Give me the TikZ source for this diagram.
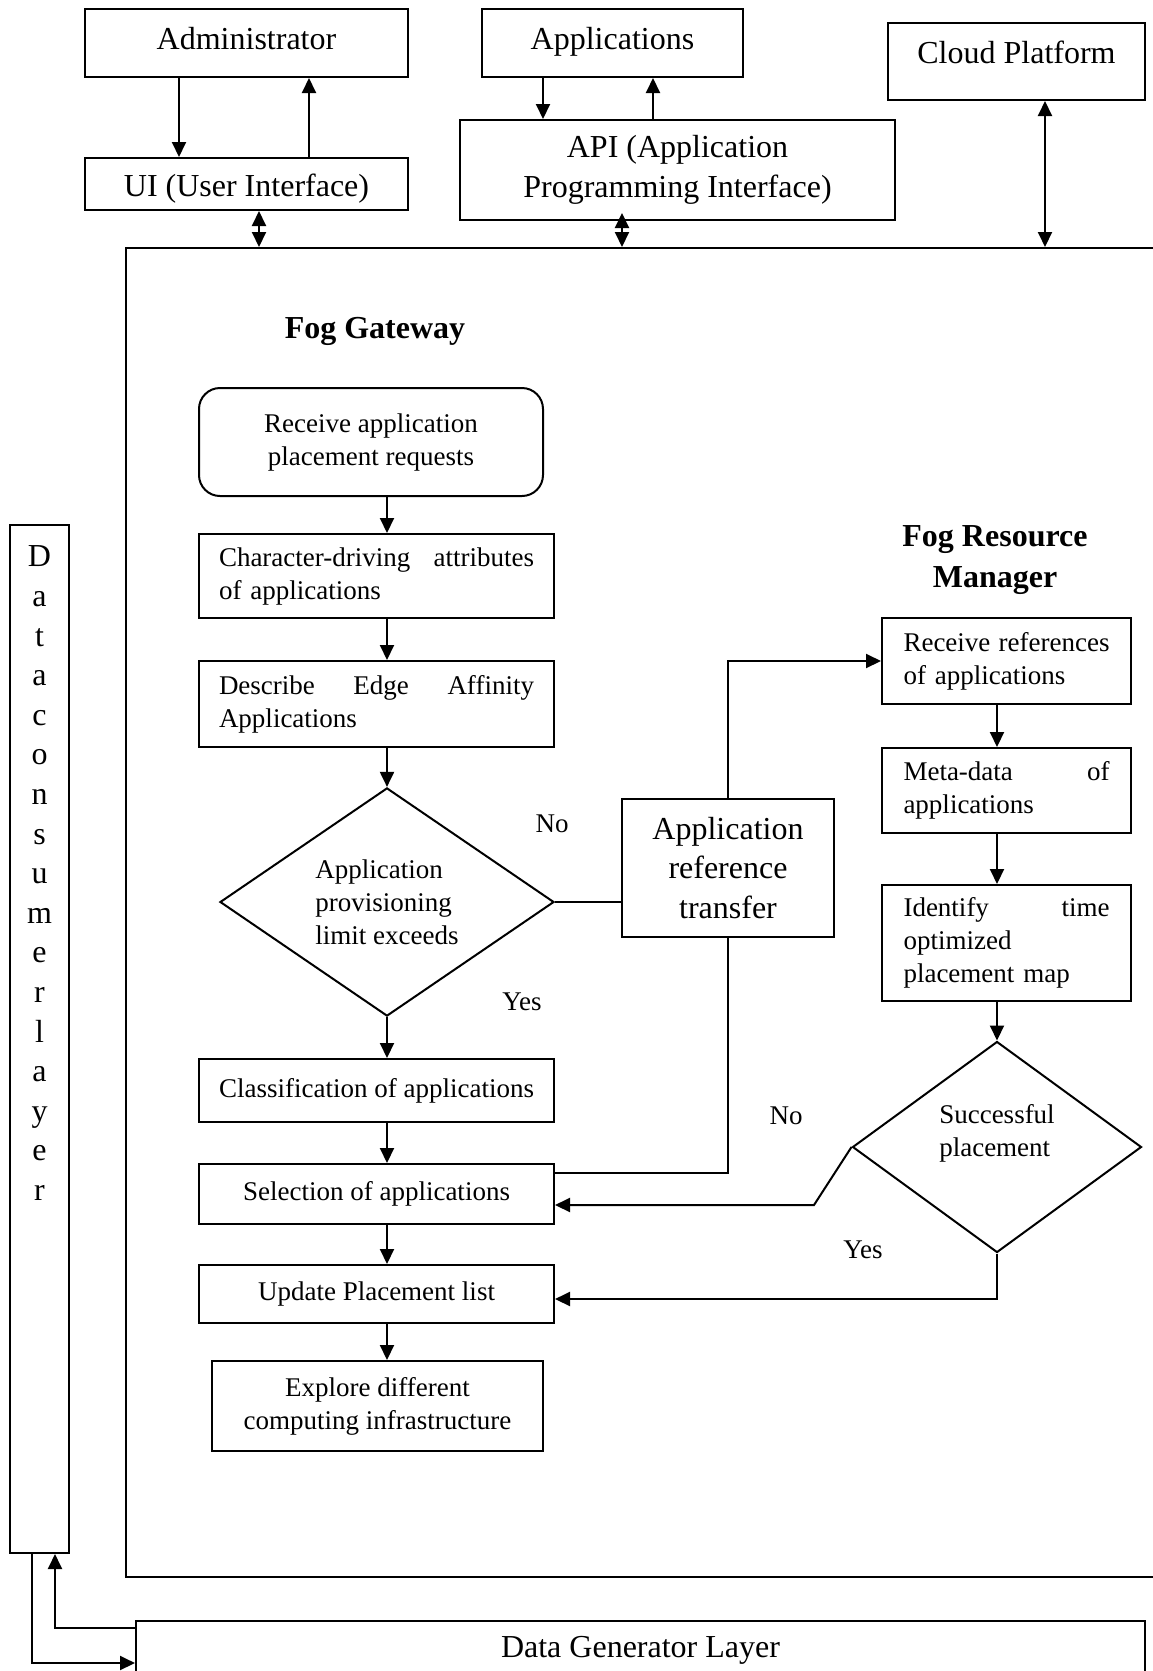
\documentclass[tikz,border=0pt]{standalone}
\usepackage{fontspec}
\setmainfont{Liberation Serif}
\usetikzlibrary{arrows.meta,shapes.geometric}

\begin{document}
\begin{tikzpicture}[x=1pt, y=-1pt, line width=2pt, >={Triangle[length=15pt,width=14pt]},
  box/.style={draw, rectangle, inner sep=0pt, align=center, font=\fontsize{32}{39.5}\selectfont},
  flow/.style={draw, rectangle, inner sep=0pt, align=center, minimum width=355pt, font=\fontsize{27}{33}\selectfont},
  just/.style={flow, text width=315pt, align=left},
  rjust/.style={draw, rectangle, inner sep=0pt, text width=206pt, align=left, minimum width=249pt, font=\fontsize{27}{33}\selectfont},
  decide/.style={draw, diamond, inner sep=0pt, align=left, font=\fontsize{27}{33}\selectfont},
  lbl/.style={font=\fontsize{27}{33}\selectfont},
  head/.style={align=center, font=\fontsize{32}{41}\selectfont\bfseries}]

\useasboundingbox (0,0) rectangle (1152,1671);

% top row
\node[box, minimum width=323pt, minimum height=68pt, text depth=9pt] (admin) at (246.5,43) {Administrator};
\node[box, minimum width=261pt, minimum height=68pt, text depth=9pt] (apps) at (612.5,43) {Applications};
\node[box, minimum width=257pt, minimum height=77pt, text depth=19.5pt] (cloud) at (1016.5,61.5) {Cloud Platform};
\node[box, minimum width=323pt, minimum height=52pt, text height=33.5pt, text depth=8pt] (ui) at (246.5,184) {UI (User Interface)};
\node[box, minimum width=435pt, minimum height=100pt] (api) at (677.5,170) {API (Application\\Programming Interface)};

\draw[->] ([xshift=-67.5pt]admin.south) -- ([xshift=-67.5pt]ui.north);
\draw[<-] ([xshift=62.5pt]admin.south) -- ([xshift=62.5pt]ui.north);
\draw[->] ([xshift=-69.5pt]apps.south) -- ([xshift=-69.5pt]apps.south |- api.north);
\draw[<-] ([xshift=40.5pt]apps.south) -- ([xshift=40.5pt]apps.south |- api.north);

% fog gateway frame
\node[draw, minimum width=1049pt, minimum height=1329pt] (fog) at (650.5,912.5) {};
\draw[<->] ([xshift=12.5pt]ui.south) -- ([xshift=12.5pt]ui.south |- fog.north);
\draw[<->] ([xshift=-55.5pt,yshift=8pt]api.south) -- ([xshift=-55.5pt]api.south |- fog.north);
\draw[<->] ([xshift=28.5pt]cloud.south) -- ([xshift=28.5pt]cloud.south |- fog.north);

\node[head] (gwtitle) at (375,331) {Fog Gateway};

\node[flow, rounded corners=21pt, minimum width=344pt, minimum height=108pt] (recv) at (371,442) {Receive application\\placement requests};
\node[just, minimum height=84pt] (chars) at (376.5,576) {Character-driving\hfill attributes\\of applications};
\node[just, minimum height=86pt] (edge) at (376.5,704) {Describe\hfill Edge\hfill Affinity\\Applications};
\node[decide, minimum width=334pt, minimum height=226pt] (limit) at (387,902) {Application\\provisioning\\limit exceeds};
\node[flow, minimum height=63pt] (classify) at (376.5,1090.5) {Classification of applications};
\node[flow, minimum height=60pt] (select) at (376.5,1194) {Selection of applications};
\node[flow, minimum height=58pt] (update) at (376.5,1294) {Update Placement list};
\node[flow, minimum width=331pt, minimum height=90pt] (explore) at (377.5,1406) {Explore different\\computing infrastructure};

\node[box, minimum width=212pt, minimum height=138pt] (transfer) at (728,868) {Application\\reference\\transfer};

\node[lbl] (no1) at (552,824) {No};
\node[lbl] (yes1) at (522,1002) {Yes};

\draw[->] (recv.south -| limit.north) -- (chars.north -| limit.north);
\draw[->] (chars.south -| limit.north) -- (edge.north -| limit.north);
\draw[->] (edge.south -| limit.north) -- (limit.north);
\draw[->] (limit.south) -- (classify.north -| limit.south);
\draw[->] (classify.south -| limit.south) -- (select.north -| limit.south);
\draw[->] (select.south -| limit.south) -- (update.north -| limit.south);
\draw[->] (update.south -| limit.south) -- (explore.north -| limit.south);

% fog resource manager
\node[head] (mgrtitle) at (995,560) {Fog Resource\\Manager};
\node[rjust, minimum height=86pt] (rref) at (1006.5,661) {Receive\hfill references\\of applications};
\node[rjust, minimum height=85pt] (meta) at (1006.5,790.5) {Meta-data\hfill of\\applications};
\node[rjust, minimum height=116pt] (ident) at (1006.5,943) {Identify\hfill time\\optimized\\placement map};
\node[decide, minimum width=289pt, minimum height=211pt] (success) at (997,1147) {Successful\\placement\\\mbox{}};

\node[lbl] (no2) at (786,1116) {No};
\node[lbl] (yes2) at (863,1250) {Yes};

\draw (limit.east) -- (limit.east -| transfer.west);
\draw[->] (transfer.north) |- (rref.west);
\draw (transfer.south) |- ([yshift=21pt]select.east);
\draw[->] (rref.south -| success.north) -- (meta.north -| success.north);
\draw[->] (meta.south -| success.north) -- (ident.north -| success.north);
\draw[->] (ident.south -| success.north) -- (success.north);
\coordinate (nobend) at (814,1205);
\draw[->] (success.west) -- (nobend) -- ([yshift=-11pt]select.east);
\draw[->] (success.south) |- ([yshift=-5pt]update.east);

% data layers
\node[draw, minimum width=59pt, minimum height=1028pt] (consumer) at (39.5,1039) {};
\node[align=center, anchor=north, inner sep=0pt, font=\fontsize{32}{39.6}\selectfont] (consumertext) at (39.5,545)
  {D\\a\\t\\a\\c\\o\\n\\s\\u\\m\\e\\r\\l\\a\\y\\e\\r};
\node[box, minimum width=1009pt, minimum height=59pt] (generator) at (640.5,1650.5) {Data Generator Layer};

\draw[->] ([yshift=22.5pt]generator.west) -| ([xshift=15.5pt]consumer.south);
\draw[->] ([xshift=-8pt]consumer.south) |- ([yshift=-12.5pt]generator.west);

\end{tikzpicture}
\end{document}
